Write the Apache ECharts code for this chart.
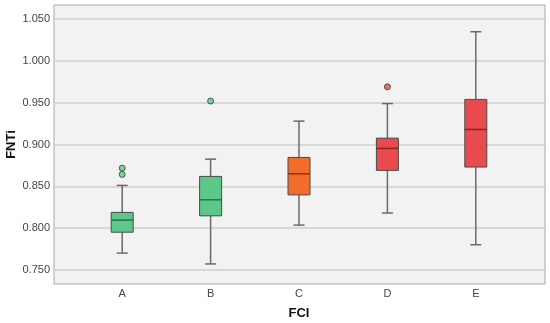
<!DOCTYPE html>
<html><head><meta charset="utf-8">
<script src="https://cdn.jsdelivr.net/npm/echarts@6/dist/echarts.min.js"></script>
<style>html,body{margin:0;padding:0;background:#fff}#c{width:550px;height:323px}</style>
</head><body><div id="c"></div>
<script>
const categories = ['A', 'B', 'C', 'D', 'E'];
// [low whisker, Q1, median, Q3, high whisker]
const boxValues = [
  [0.770, 0.795, 0.8095, 0.8187, 0.851],
  [0.757, 0.8146, 0.8338, 0.8618, 0.8825],
  [0.8035, 0.8397, 0.8649, 0.8845, 0.928],
  [0.818, 0.869, 0.8953, 0.9076, 0.949],
  [0.780, 0.873, 0.918, 0.954, 1.035]
];
// [category, value]
const outliers = [
  ['A', 0.8642], ['A', 0.8717], ['B', 0.952], ['D', 0.969]
];
const yTicks = [0.750, 0.800, 0.850, 0.900, 0.950, 1.000, 1.050];
const fills = ['#5cc888', '#5cc888', '#f26c2c', '#e94a4e', '#e94a4e'];
const medians = ['#2f6e48', '#2f6e48', '#8a3412', '#8a2226', '#8a2226'];

const yMin = 0.733, yMax = 1.067;
const chart = echarts.init(document.getElementById('c'));
chart.setOption({
  animation: false,
  grid: [
    {left: 54, right: 5, top: 5, height: 279, show: true, backgroundColor: '#f2f2f2', borderColor: '#a8a8a8', borderWidth: 1,
     containLabel: false, outerBoundsMode: 'none'},
    {left: 78, right: 30, top: 5, height: 279, containLabel: false, outerBoundsMode: 'none'}
  ],
  xAxis: [
    {gridIndex: 0, type: 'value', show: false, min: 0, max: 1},
    {gridIndex: 1, type: 'category', data: categories,
     axisLine: {show: false}, axisTick: {show: false},
     axisLabel: {color: '#444', fontSize: 11, fontFamily: 'Liberation Sans', margin: 4},
     name: 'FCI', nameLocation: 'middle', nameGap: 23,
     nameTextStyle: {fontWeight: 'bold', fontSize: 13, color: '#111', fontFamily: 'Liberation Sans'}}
  ],
  yAxis: [
    {gridIndex: 0, type: 'value', min: yMin, max: yMax,
     axisLine: {show: false}, axisTick: {show: false, customValues: yTicks},
     axisLabel: {customValues: yTicks, color: '#444', fontSize: 11, fontFamily: 'Liberation Sans', margin: 4,
                 formatter: v => v.toFixed(3)},
     splitLine: {show: true, lineStyle: {color: '#cfcfcf', width: 1.5}},
     name: 'FNTi', nameLocation: 'middle', nameGap: 36, nameMoveOverlap: false,
     nameTextStyle: {fontWeight: 'bold', fontSize: 13, color: '#111', fontFamily: 'Liberation Sans'}},
    {gridIndex: 1, type: 'value', min: yMin, max: yMax, show: false, splitLine: {show: false}}
  ],
  series: [
    {
      type: 'custom', xAxisIndex: 1, yAxisIndex: 1,
      data: boxValues.map((b, i) => [i].concat(b)),
      renderItem: function (params, api) {
        const i = api.value(0);
        const lo = api.coord([i, api.value(1)]);
        const q1 = api.coord([i, api.value(2)]);
        const md = api.coord([i, api.value(3)]);
        const q3 = api.coord([i, api.value(4)]);
        const hi = api.coord([i, api.value(5)]);
        const x = lo[0], bw = 22, cw = 11;
        const ws = {stroke: '#6a6a6a', lineWidth: 1.5};
        return {type: 'group', children: [
          {type: 'line', shape: {x1: x, y1: lo[1], x2: x, y2: q1[1]}, style: ws},
          {type: 'line', shape: {x1: x, y1: q3[1], x2: x, y2: hi[1]}, style: ws},
          {type: 'line', shape: {x1: x - cw / 2, y1: lo[1], x2: x + cw / 2, y2: lo[1]}, style: ws},
          {type: 'line', shape: {x1: x - cw / 2, y1: hi[1], x2: x + cw / 2, y2: hi[1]}, style: ws},
          {type: 'rect', shape: {x: x - bw / 2, y: q3[1], width: bw, height: q1[1] - q3[1]},
           style: {fill: fills[i], stroke: '#4a4a4a', lineWidth: 1}},
          {type: 'line', shape: {x1: x - bw / 2, y1: md[1], x2: x + bw / 2, y2: md[1]},
           style: {stroke: medians[i], lineWidth: 1.5}}
        ]};
      }
    },
    {
      type: 'scatter', xAxisIndex: 1, yAxisIndex: 1,
      data: outliers,
      symbolSize: 6,
      itemStyle: {
        color: p => fills[categories.indexOf(p.data[0])],
        borderColor: '#3a3a3a', borderWidth: 1
      }
    }
  ]
});
</script></body></html>
